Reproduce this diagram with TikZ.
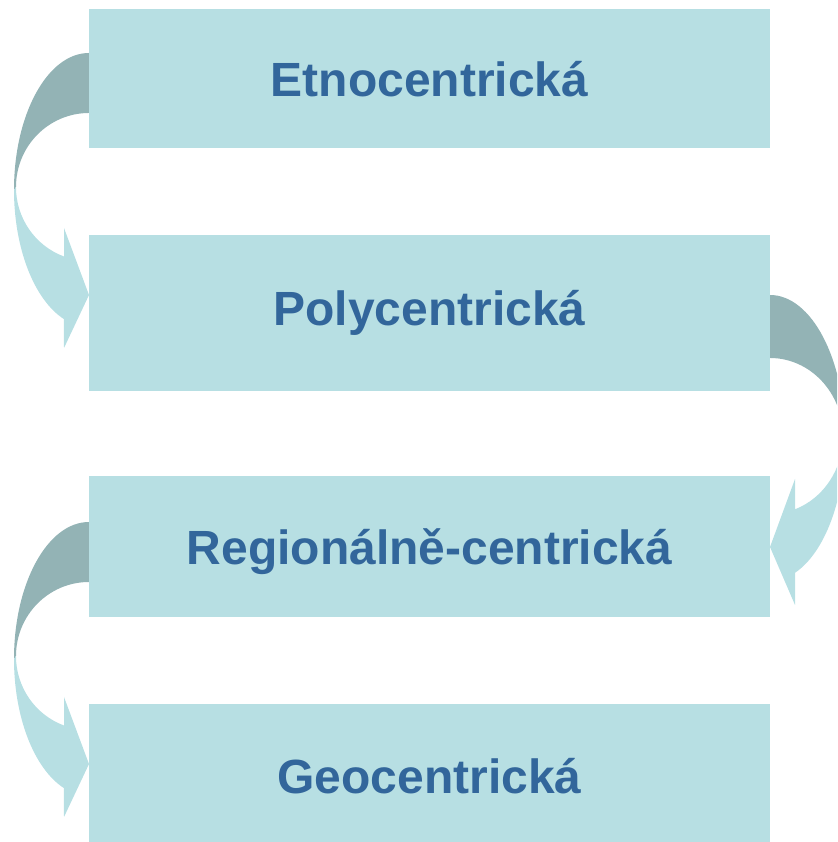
\documentclass[tikz,border=0pt]{standalone}
\usepackage{fontspec}
\setmainfont{Liberation Sans}
\definecolor{boxfill}{RGB}{183,223,227}
\definecolor{arrowdark}{RGB}{147,179,181}
\definecolor{labeltext}{RGB}{50,102,155}

\begin{document}
\begin{tikzpicture}[x=1pt, y=1pt,
		box/.style={fill=boxfill, inner sep=0pt, minimum width=681pt,
			text height=36pt, text depth=0pt,
			text=labeltext, font=\fontsize{48}{50}\selectfont\bfseries},
		darkpart/.style={fill=arrowdark},
		lightpart/.style={fill=boxfill}]
		\useasboundingbox (0,0) rectangle (837,842);
		\clip (0,0) rectangle (837,842);

		\coordinate (a) at (429.5, 763.5);
		\coordinate (b) at (429.5, 529);
		\coordinate (c) at (429.5, 295.5);
		\coordinate (d) at (429.5, 69);

		% left arrow, first to second box
		\fill[darkpart] (89,789) arc[start angle=90, end angle=180, x radius=75, y radius=137]
			-- (16,655) arc[start angle=180, end angle=90, x radius=73, y radius=74] -- cycle;
		\fill[lightpart] (14,652) arc[start angle=180, end angle=250.5, x radius=75, y radius=137]
			-- (64,494) -- (89,547) -- (64,614) -- (64,585.5)
			arc[start angle=250, end angle=180, x radius=73, y radius=74] -- cycle;

		% right arrow, second to third box
		\fill[darkpart] (770,547) arc[start angle=90, end angle=0, x radius=75, y radius=143]
			-- (843,406) arc[start angle=0, end angle=90, x radius=73, y radius=78] -- cycle;
		\fill[lightpart] (845,404) arc[start angle=0, end angle=-70.5, x radius=75, y radius=143]
			-- (795,237) -- (770,295) -- (795,363) -- (795,332.7)
			arc[start angle=-70, end angle=0, x radius=73, y radius=78] -- cycle;

		% left arrow, third to fourth box
		\fill[darkpart] (89,320) arc[start angle=90, end angle=180, x radius=75, y radius=137]
			-- (16,186) arc[start angle=180, end angle=90, x radius=73, y radius=74] -- cycle;
		\fill[lightpart] (14,183) arc[start angle=180, end angle=250.5, x radius=75, y radius=137]
			-- (64,25) -- (89,78) -- (64,145) -- (64,116.5)
			arc[start angle=250, end angle=180, x radius=73, y radius=74] -- cycle;

		\node[box, minimum height=139pt] (etno) at (a) {Etnocentrická};
		\node[box, minimum height=156pt, text depth=11pt] (poly) at (b) {Polycentrická};
		\node[box, minimum height=141pt] (regio) at (c) {Regionálně-centrická};
		\node[box, minimum height=138pt, text height=42pt] (geo) at (d) {Geocentrická};
	\end{tikzpicture}
\end{document}
